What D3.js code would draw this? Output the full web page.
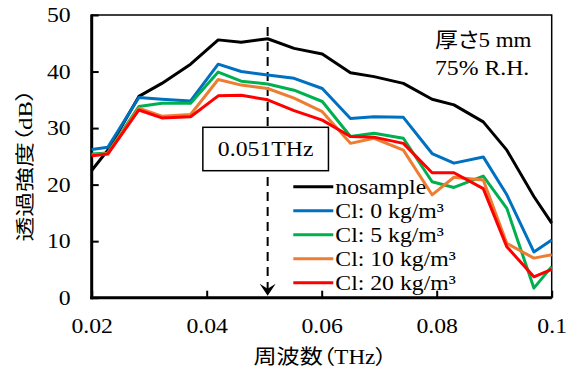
<!DOCTYPE html>
<html>
<head>
<meta charset="utf-8">
<script src="https://cdn.jsdelivr.net/npm/d3@7"></script>
<style>
body { margin: 0; background: #fff; }
</style>
</head>
<body>
<div id="chart"></div>
<script>
const width = 573;
const height = 371;
const serifFont = "Liberation Serif";
const cjkFont = "Noto Sans CJK JP";
const stretch = 1.13; // the original text is a bit wide

// frequency (THz) of each measured point
const freqs = [0.020, 0.0228, 0.0282, 0.0322, 0.0372, 0.0420, 0.0460, 0.0506, 0.0552, 0.0601,
	0.0650, 0.0691, 0.0742, 0.0792, 0.0830, 0.0881, 0.0922, 0.0969, 0.1000];
// transmission intensity (dB)
const nosample = [22.5, 26.1, 35.6, 37.9, 41.3, 45.6, 45.2, 45.8, 44.1, 43.1, 39.8, 39.1, 37.9, 35.1, 34.1, 31.1, 26.1, 17.9, 13.2];
const cl0 = [26.2, 26.6, 35.4, 35.1, 34.8, 41.3, 40.0, 39.4, 38.8, 37.0, 31.7, 32.0, 31.9, 25.5, 23.8, 24.9, 18.2, 8.1, 10.2];
const cl5 = [25.4, 25.6, 33.8, 34.4, 34.4, 39.9, 38.3, 37.8, 36.7, 34.7, 28.5, 29.1, 28.2, 20.5, 19.5, 21.5, 15.8, 1.7, 5.5];
const cl10 = [25.2, 25.5, 33.5, 32.1, 32.4, 38.6, 37.6, 37.0, 35.3, 32.9, 27.3, 28.2, 26.1, 18.2, 21.3, 20.8, 9.6, 7.0, 7.6];
const cl20 = [25.1, 25.4, 33.2, 31.8, 32.0, 35.7, 35.8, 35.0, 33.1, 31.4, 28.5, 28.4, 27.3, 22.1, 22.1, 19.3, 9.0, 3.7, 5.0];

const seriesNames = ["nosample", "Cl: 0 kg/m³", "Cl: 5 kg/m³", "Cl: 10 kg/m³", "Cl: 20 kg/m³"];
const seriesValues = [nosample, cl0, cl5, cl10, cl20];
const colors = ["#000000", "#0070C0", "#00B050", "#ED7D31", "#FF0000"];

const xTicks = [0.02, 0.04, 0.06, 0.08, 0.1];
const xTickLabels = ["0.02", "0.04", "0.06", "0.08", "0.1"];
const yTicks = [0, 10, 20, 30, 40, 50];

const markerFreq = 0.0506;
const markerLabel = "0.051THz";

const margin = { top: 15, right: 21.3, bottom: 73.3, left: 91.7 };
const iw = width - margin.left - margin.right;
const ih = height - margin.top - margin.bottom;

const svg = d3.select("#chart").append("svg")
	.attr("width", width)
	.attr("height", height)
	.attr("font-family", serifFont);

const g = svg.append("g").attr("transform", `translate(${margin.left},${margin.top})`);

const x = d3.scaleLinear().domain([0.02, 0.1]).range([0, iw]);
const y = d3.scaleLinear().domain([0, 50]).range([ih, 0]);

const cjkRe = /[\u3000-\u30ff\u4e00-\u9fff\uff00-\uffef]/;
// split text into latin / cjk runs so each uses its own font
function mixedText(sel, str) {
	const runs = str.match(/[\u3000-\u30ff\u4e00-\u9fff\uff00-\uffef]+|[^\u3000-\u30ff\u4e00-\u9fff\uff00-\uffef]+/g);
	runs.forEach(r => {
		const cjk = cjkRe.test(r);
		sel.append("tspan")
			.attr("font-family", cjk ? cjkFont : serifFont)
			.style("font-feature-settings", cjk ? "'palt'" : null)
			.text(r);
	});
	return sel;
}

// widen text to a target length (or by a factor)
function widen(sel, len) {
	sel.each(function () {
		const w = typeof len === "number" && len > 5 ? len : this.getComputedTextLength() * (len || stretch);
		d3.select(this).attr("textLength", w).attr("lengthAdjust", "spacingAndGlyphs");
	});
	return sel;
}

// frame: thin top/right
g.append("rect")
	.attr("width", iw).attr("height", ih)
	.attr("fill", "none").attr("stroke", "#000").attr("stroke-width", 1.5);

// axes with inside ticks
const xAxis = g.append("g")
	.attr("transform", `translate(0,${ih})`)
	.call(d3.axisBottom(x).tickValues(xTicks).tickFormat((d, i) => xTickLabels[i]).tickSize(-7).tickPadding(20));
const yAxis = g.append("g")
	.call(d3.axisLeft(y).tickValues(yTicks).tickSize(-7).tickPadding(21));

[xAxis, yAxis].forEach(a => {
	a.attr("font-family", serifFont).attr("font-size", 21);
	a.select(".domain").remove();
	a.selectAll(".tick line").attr("stroke", "#000").attr("stroke-width", 2);
	a.selectAll("text").attr("fill", "#000");
	widen(a.selectAll("text"));
});

g.append("line").attr("x1", 0).attr("x2", 0).attr("y1", -0.5).attr("y2", ih + 1.5)
	.attr("stroke", "#000").attr("stroke-width", 3);
g.append("line").attr("x1", -1.5).attr("x2", iw).attr("y1", ih).attr("y2", ih)
	.attr("stroke", "#000").attr("stroke-width", 3);

// marker: dashed arrow
const mx = x(markerFreq);
g.append("line")
	.attr("x1", mx).attr("x2", mx).attr("y1", 12).attr("y2", ih - 8)
	.attr("stroke", "#000").attr("stroke-width", 2)
	.attr("stroke-dasharray", "9,6");
g.append("path")
	.attr("d", `M${mx},${ih - 2} L${mx - 8},${ih - 14} L${mx},${ih - 9} L${mx + 8},${ih - 14} Z`)
	.attr("fill", "#000");

// legend (under the lines)
const legend = g.append("g").attr("transform", "translate(201.6,171.7)");
seriesNames.forEach((name, i) => {
	const row = legend.append("g").attr("transform", `translate(0,${i * 24})`);
	row.append("line").attr("x1", 0).attr("x2", 40).attr("y1", 0).attr("y2", 0)
		.attr("stroke", colors[i]).attr("stroke-width", 3);
	widen(row.append("text").attr("x", 42).attr("y", 0).attr("dy", "0.35em")
		.attr("font-size", 21).text(name));
});

// data lines
const line = d3.line().x((d, i) => x(freqs[i])).y(d => y(d));
seriesValues.forEach((vals, i) => {
	g.append("path")
		.datum(vals)
		.attr("d", line)
		.attr("fill", "none")
		.attr("stroke", colors[i])
		.attr("stroke-width", 3)
		.attr("stroke-linejoin", "round");
});

// label box
const box = g.append("g").attr("transform", `translate(${mx - 2},${112.3 + 21.7})`);
box.append("rect").attr("x", -62.8).attr("y", -21.7).attr("width", 125.6).attr("height", 43.4)
	.attr("fill", "#fff").attr("stroke", "#000").attr("stroke-width", 1.5);
widen(box.append("text").attr("text-anchor", "middle").attr("dy", "0.35em")
	.attr("font-size", 21).text(markerLabel));

// condition note
widen(mixedText(g.append("text").attr("x", 343.3).attr("y", 31.7).attr("font-size", 21), "厚さ5 mm"), 96.5);
widen(g.append("text").attr("x", 343.3).attr("y", 60).attr("font-size", 21).text("75% R.H."));

// axis titles
widen(mixedText(svg.append("text")
	.attr("x", margin.left + iw / 2 - 1.5).attr("y", 364)
	.attr("text-anchor", "middle")
	.attr("font-size", 20), "周波数（THz）"), 133.5);
widen(mixedText(svg.append("text")
	.attr("transform", `translate(32,165) rotate(-90)`)
	.attr("text-anchor", "middle")
	.attr("font-size", 19), "透過強度（dB）"), 153);
</script>
</body>
</html>
